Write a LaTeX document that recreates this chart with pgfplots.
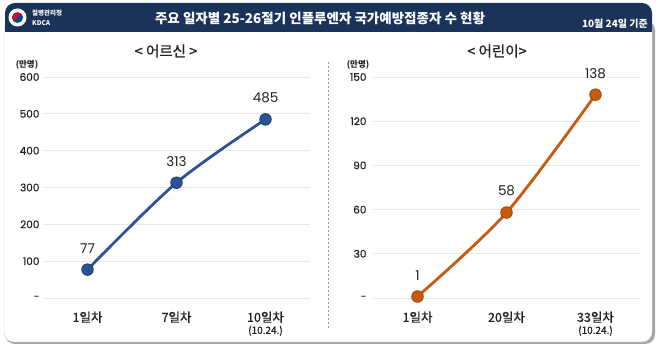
\documentclass[border=0pt]{standalone}
\usepackage{fontspec}
\setmainfont{Noto Sans CJK KR}
\newfontfamily\pop{Poppins}
\newfontfamily\popm{Poppins}[FakeBold=0.6]
\newfontfamily\med{Noto Sans CJK KR}[FakeBold=0.8]
\usepackage{pgfplots}
\pgfplotsset{compat=1.18}
\definecolor{navy}{HTML}{1B3358}
\definecolor{lblue}{HTML}{2E5395}
\definecolor{lblueD}{HTML}{1F3B70}
\definecolor{orng}{HTML}{C55A11}
\definecolor{orngD}{HTML}{9E450B}
\definecolor{txt}{HTML}{222222}
\definecolor{kred}{HTML}{C8102E}
\definecolor{kblue}{HTML}{0047A0}
\pgfplotsset{mychart/.style={
  anchor=south west, width=267pt, height=221pt, scale only axis,
  xmin=-0.5, xmax=2.5, ymin=0, clip=false,
  axis line style={draw=none}, major tick length=0pt,
  ymajorgrids, grid style={line width=0.8pt, color=black!9},
  xtick={0,1,2},
  yticklabel style={font=\popm\fontsize{10.5}{10.5}\selectfont, color=txt, anchor=east},
  xticklabel style={font=\med\fontsize{12.5}{13}\selectfont, color=txt, anchor=north, align=center, yshift=-10pt},
  nodes near coords, point meta=explicit symbolic,
  nodes near coords style={font=\pop\fontsize{13.5}{13.5}\selectfont, color=txt, anchor=south, inner sep=0pt, yshift=16pt},
}}
\begin{document}
\begin{tikzpicture}[x=1pt,y=1pt]
\useasboundingbox (0,0) rectangle (658,350);
\coordinate (L) at (43,52);
\coordinate (R) at (373,52);
% card
\fill[black!35, rounded corners=10pt] (5,6) rectangle (655,330);
\fill[white, draw=black!18, rounded corners=10pt] (4,8) rectangle (652,330);
% header
\fill[navy, rounded corners=10pt] (5,318) rectangle (652,347);
\fill[navy] (5,318) rectangle (652,328);
% logo
\fill[white] (17.5,332.5) circle (9);
\fill[kred] (17.5,332.5) ++(0:5.5) arc (0:180:5.5) -- cycle;
\fill[kblue] (17.5,332.5) ++(180:5.5) arc (180:360:5.5) -- cycle;
\fill[kred] (14.75,332.5) circle (2.75);
\fill[kblue] (20.25,332.5) circle (2.75);
\node[white, anchor=west, inner sep=0pt, font=\bfseries\fontsize{6.5}{6.5}\selectfont] at (32,337) {질병관리청};
\node[white, anchor=west, inner sep=0pt, font=\bfseries\fontsize{6.5}{6.5}\selectfont] at (32,326.5) {KDCA};
\node[white, font=\bfseries\fontsize{13.5}{13.5}\selectfont] at (320,331.5) {주요 일자별 25-26절기 인플루엔자 국가예방접종자 수 현황};
\node[white, anchor=east, inner sep=0pt, font=\bfseries\fontsize{10}{10}\selectfont] at (648,326) {10월 24일 기준};
% divider
\draw[black!40, line width=0.6pt, dash pattern=on 2pt off 2pt] (328,22) -- (328,288);
% titles
\node[txt, font=\med\fontsize{14.5}{14.5}\selectfont] at (166,299) {< 어르신 >};
\node[txt, font=\med\fontsize{14.5}{14.5}\selectfont] at (497,299) {< 어린이>};
\node[txt, font=\bfseries\fontsize{8.5}{8.5}\selectfont] at (27,285) {(만명)};
\node[txt, font=\bfseries\fontsize{8.5}{8.5}\selectfont] at (358,285) {(만명)};
% left chart
\begin{axis}[mychart, at={(L)}, ymax=600,
  ytick={0,100,200,300,400,500,600},
  yticklabels={-,100,200,300,400,500,600},
  xticklabels={1일차,7일차,{10일차\\[-1pt]{\fontsize{10}{10}\selectfont(10.24.)}}}]
\addplot[lblue, line width=2.8pt, smooth, tension=0.5, mark=*, mark size=5.8pt,
  mark options={fill=lblue, draw=lblueD, line width=0.8pt}]
  coordinates {(0,77)[77] (1,313)[313] (2,485)[485]};
\end{axis}
% right chart
\begin{axis}[mychart, at={(R)}, ymax=150,
  ytick={0,30,60,90,120,150},
  yticklabels={-,30,60,90,120,150},
  yticklabel style={xshift=-3pt},
  xticklabels={1일차,20일차,{33일차\\[-1pt]{\fontsize{10}{10}\selectfont(10.24.)}}}]
\addplot[orng, line width=2.8pt, smooth, tension=0.5, mark=*, mark size=5.8pt,
  mark options={fill=orng, draw=orngD, line width=0.8pt}]
  coordinates {(0,1)[1] (1,58)[58] (2,138)[138]};
\end{axis}
\end{tikzpicture}
\end{document}
